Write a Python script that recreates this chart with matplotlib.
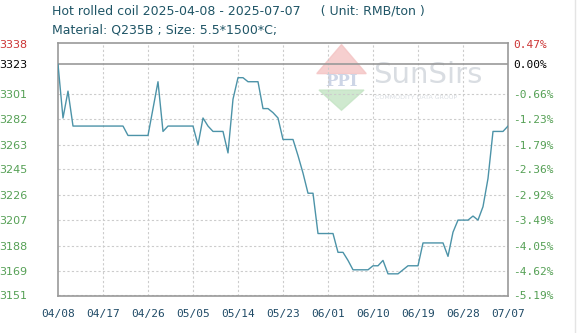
import numpy as np
import pandas as pd
import matplotlib
matplotlib.use("Agg")
import matplotlib.pyplot as plt
from matplotlib.patches import Polygon

# daily prices, 2025-04-08 .. 2025-07-07 (RMB/ton)
start_date = "2025-04-08"
prices = [3323, 3283, 3303, 3277, 3277, 3277, 3277, 3277, 3277, 3277,
          3277, 3277, 3277, 3277, 3270, 3270, 3270, 3270, 3270, 3290,
          3310, 3273, 3277, 3277, 3277, 3277, 3277, 3277, 3263, 3283,
          3277, 3273, 3273, 3273, 3257, 3297, 3313, 3313, 3310, 3310,
          3310, 3290, 3290, 3287, 3283, 3267, 3267, 3267, 3255, 3242,
          3227, 3227, 3197, 3197, 3197, 3197, 3183, 3183, 3177, 3170,
          3170, 3170, 3170, 3173, 3173, 3177, 3167, 3167, 3167, 3170,
          3173, 3173, 3173, 3190, 3190, 3190, 3190, 3190, 3180, 3198,
          3207, 3207, 3207, 3210, 3207, 3217, 3238, 3273, 3273, 3273,
          3277]
base_price = 3323
top_price = 3338
y_min, y_max = 3150.5, 3338.6

left_ticks = [3151, 3169, 3188, 3207, 3226, 3245, 3263, 3282, 3301, 3323, 3338]
right_labels = ["-5.19%", "-4.62%", "-4.05%", "-3.49%", "-2.92%", "-2.36%",
                "-1.79%", "-1.23%", "-0.66%", "0.00%", "0.47%"]
x_tick_labels = ["04/08", "04/17", "04/26", "05/05", "05/14", "05/23",
                 "06/01", "06/10", "06/19", "06/28", "07/07"]

dates = pd.date_range(start_date, periods=len(prices), freq="D")
x_ticks = pd.to_datetime(["2025-" + s.replace("/", "-") for s in x_tick_labels])

green = "#55a055"
red = "#cc3333"


def label_color(v):
    if v == top_price:
        return red
    if v == base_price:
        return "black"
    return green


fig = plt.figure(figsize=(5.79, 3.33), dpi=100)
ax = fig.add_axes([58 / 579, 1 - 296 / 333, 450 / 579, 252.7 / 333])

ax.plot(dates, prices, color="#4c93a8", lw=1.0, zorder=3)
ax.axhline(base_price, color="#999999", lw=1.2, zorder=2)

ax.set_ylim(y_min, y_max)
ax.set_xlim(dates[0], dates[-1])

# grid, dashed, except base and top lines
for v in left_ticks[:-2]:
    ax.axhline(v, color="#cccccc", lw=0.8, ls=(0, (2, 2)), zorder=1)
for t in x_ticks[1:-1]:
    ax.axvline(t, color="#cccccc", lw=0.8, ls=(0, (2, 2)), zorder=1)

for s in ax.spines.values():
    s.set_color("#999999")
    s.set_linewidth(1.2)

ax.set_yticks(left_ticks)
ax.set_yticklabels([str(v) for v in left_ticks], fontsize=8, family="DejaVu Sans")
ax.tick_params(axis="y", length=0, pad=22)
for lbl, v in zip(ax.get_yticklabels(), left_ticks):
    lbl.set_color(label_color(v))

ax.set_xticks(x_ticks)
ax.set_xticklabels(x_tick_labels, fontsize=8, family="DejaVu Sans Mono", color="#1f4a66")
ax.tick_params(axis="x", length=0, pad=9)

ax2 = ax.twinx()
ax2.set_ylim(y_min, y_max)
ax2.set_yticks(left_ticks)
ax2.set_yticklabels(right_labels, fontsize=8, family="DejaVu Sans Mono")
ax2.tick_params(axis="y", length=0, pad=4)
for lbl, v in zip(ax2.get_yticklabels(), left_ticks):
    lbl.set_color(label_color(v))
for s in ax2.spines.values():
    s.set_visible(False)

# watermark logo
ax.add_patch(Polygon([[0.575, 0.88], [0.63, 0.995], [0.685, 0.88]], closed=True,
                     transform=ax.transAxes, color="#f4c4c4", alpha=0.8, zorder=0))
ax.add_patch(Polygon([[0.58, 0.815], [0.63, 0.735], [0.68, 0.815]], closed=True,
                     transform=ax.transAxes, color="#c4e4c4", alpha=0.8, zorder=0))
ax.text(0.63, 0.848, "PPI", transform=ax.transAxes, ha="center", va="center",
        fontsize=12, color="#cdd5e6", fontweight="bold", zorder=0, family="DejaVu Serif")
ax.text(0.70, 0.875, "SunSirs", transform=ax.transAxes, ha="left", va="center",
        fontsize=21, color="#d9dde2", zorder=0)
ax.text(0.705, 0.785, "COMMODITY DATA GROUP", transform=ax.transAxes, ha="left",
        va="center", fontsize=4.5, color="#d9dde2", zorder=0)

fig.text(52 / 579, 1 - 11 / 333, "Hot rolled coil 2025-04-08 - 2025-07-07     ( Unit: RMB/ton )",
         fontsize=9, color="#1f5566", va="center", ha="left")
fig.text(52 / 579, 1 - 30 / 333, "Material: Q235B ; Size: 5.5*1500*C;",
         fontsize=9, color="#1f5566", va="center", ha="left")

# faint right border of the widget
fig.add_artist(plt.Line2D([575 / 579, 575 / 579], [0, 1], color="#e4e4e4", lw=1))

fig.savefig("out.png", dpi=100)
